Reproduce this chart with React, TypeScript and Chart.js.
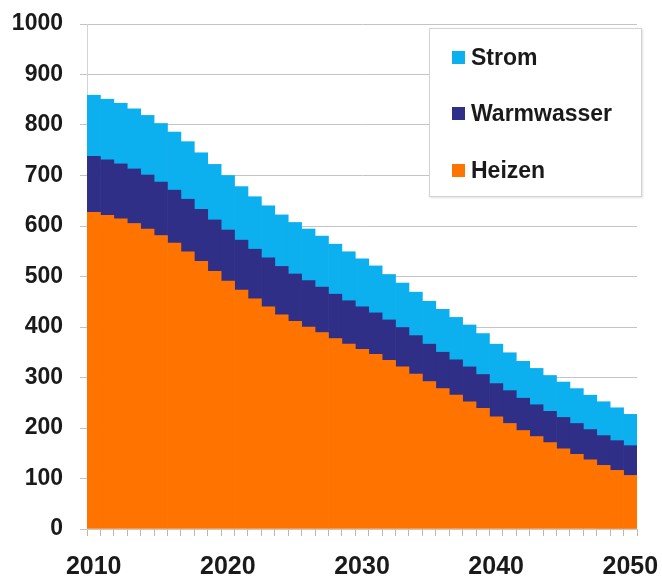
import React, { useEffect, useRef } from "react";
import { Chart, registerables } from "chart.js";

Chart.register(...registerables);

const years = [
  "2010", "2011", "2012", "2013", "2014", "2015", "2016", "2017", "2018", "2019",
  "2020", "2021", "2022", "2023", "2024", "2025", "2026", "2027", "2028", "2029",
  "2030", "2031", "2032", "2033", "2034", "2035", "2036", "2037", "2038", "2039",
  "2040", "2041", "2042", "2043", "2044", "2045", "2046", "2047", "2048", "2049",
  "2050",
];

const heizen = [
  627, 621, 614, 605, 594, 581, 566, 549, 530, 510,
  491, 473, 456, 440, 424, 411, 400, 389, 377, 366,
  356, 346, 334, 321, 307, 292, 278, 265, 252, 239,
  222, 209, 195, 183, 171, 159, 148, 137, 126, 116,
  106,
];

const warmwasser = [
  111, 110, 109, 108, 107, 106, 105, 104, 103, 102,
  101, 99, 98, 97, 96, 94, 92, 90, 88, 86,
  84, 82, 80, 78, 76, 74, 72, 70, 69, 67,
  66, 65, 64, 63, 62, 62, 61, 60, 59, 59,
  59,
];

const strom = [
  121, 120, 120, 119, 118, 116, 115, 114, 112, 110,
  108, 106, 104, 103, 102, 102, 102, 101, 99, 97,
  95, 93, 90, 88, 86, 85, 85, 84, 83, 81,
  78, 75, 73, 72, 71, 70, 69, 68, 67, 65,
  62,
];

const xTickLabels = ["2010", "2020", "2030", "2040", "2050"];

const colors = {
  strom: "#0db0ee",
  warmwasser: "#302f88",
  heizen: "#ff7400",
};

const legendItems = [
  { label: "Strom", color: colors.strom },
  { label: "Warmwasser", color: colors.warmwasser },
  { label: "Heizen", color: colors.heizen },
];

const FONT = "'Liberation Sans', Arial, sans-serif";

export default function App() {
  const canvasRef = useRef<HTMLCanvasElement | null>(null);

  useEffect(() => {
    if (!canvasRef.current) return;
    const chart = new Chart(canvasRef.current, {
      type: "bar",
      data: {
        labels: years,
        datasets: [
          { label: "Heizen", data: heizen, backgroundColor: colors.heizen },
          { label: "Warmwasser", data: warmwasser, backgroundColor: colors.warmwasser },
          { label: "Strom", data: strom, backgroundColor: colors.strom },
        ],
      },
      options: {
        animation: false,
        responsive: false,
        maintainAspectRatio: false,
        layout: { padding: { top: 24, right: 25, left: 0, bottom: 0 } },
        datasets: {
          bar: {
            barPercentage: 1,
            categoryPercentage: 1,
            borderWidth: 0,
          },
        },
        plugins: {
          legend: { display: false },
          tooltip: { enabled: false },
        },
        scales: {
          x: {
            stacked: true,
            offset: true,
            grid: {
              offset: true,
              drawOnChartArea: false,
              drawTicks: true,
              tickLength: 7,
              color: "#b8b8b8",
            },
            border: { display: true, color: "#c8c8c8" },
            ticks: {
              autoSkip: false,
              maxRotation: 0,
              minRotation: 0,
              padding: 16,
              color: "#1a1a1a",
              font: { family: FONT, size: 25, weight: "bold" },
              callback: function (this: any, value: any, index: number) {
                const lbl = years[index];
                return xTickLabels.includes(lbl) ? lbl : "";
              },
            },
            afterFit: (scale: any) => {
              scale.height = 51;
              scale.paddingLeft = 0;
              scale.paddingRight = 0;
            },
          },
          y: {
            stacked: true,
            min: 0,
            max: 1000,
            grid: {
              color: "#c4c4c4",
              lineWidth: 1,
              drawTicks: true,
              tickLength: 7,
            },
            border: { display: true, color: "#d4d4d4" },
            ticks: {
              stepSize: 100,
              padding: 17,
              color: "#1a1a1a",
              font: { family: FONT, size: 23, weight: "bold" },
              callback: (value: any) => String(value),
            },
            afterFit: (scale: any) => {
              scale.width = 87;
              scale.paddingTop = 0;
              scale.paddingBottom = 0;
            },
          },
        },
      },
    });
    return () => chart.destroy();
  }, []);

  return (
    <div
      style={{
        position: "absolute",
        left: 0,
        top: 0,
        width: 662,
        height: 580,
        background: "#ffffff",
        overflow: "hidden",
      }}
    >
      <canvas
        ref={canvasRef}
        width={662}
        height={580}
        style={{ position: "absolute", left: 0, top: 0, width: 662, height: 580 }}
      />
      <div
        style={{
          position: "absolute",
          left: 429,
          top: 28,
          width: 211,
          height: 167,
          background: "#ffffff",
          border: "1px solid #d2d2d2",
          boxShadow: "1px 1px 2px rgba(0,0,0,0.12)",
          fontFamily: FONT,
          fontWeight: "bold",
          fontSize: 23,
          color: "#1a1a1a",
        }}
      >
        {legendItems.map((item, i) => (
          <div
            key={item.label}
            style={{
              position: "absolute",
              left: 22,
              top: 28 + i * 56.5 - 14,
              height: 28,
              display: "flex",
              alignItems: "center",
              whiteSpace: "nowrap",
            }}
          >
            <span
              style={{
                display: "inline-block",
                width: 13,
                height: 13,
                background: item.color,
                marginRight: 6,
              }}
            />
            <span>{item.label}</span>
          </div>
        ))}
      </div>
    </div>
  );
}
